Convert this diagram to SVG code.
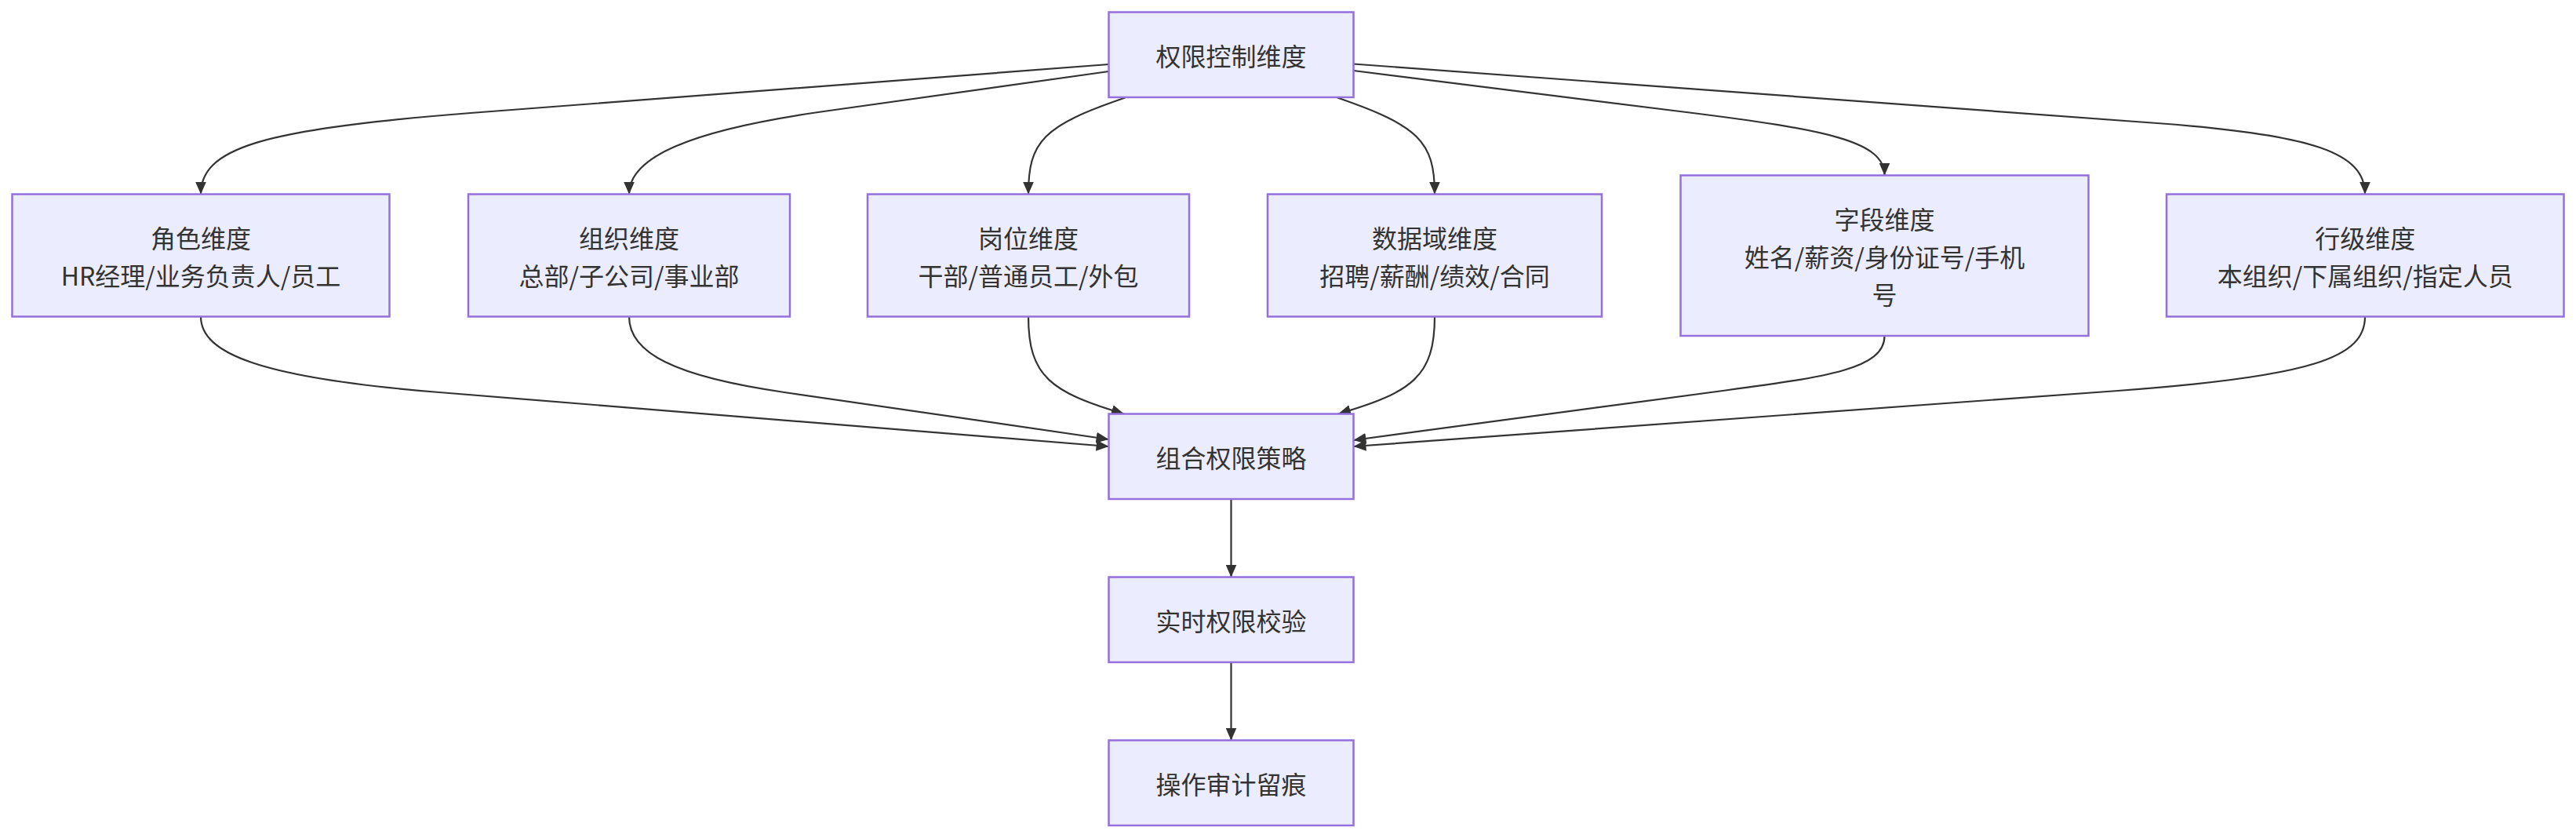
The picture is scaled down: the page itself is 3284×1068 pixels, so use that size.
<svg xmlns="http://www.w3.org/2000/svg" width="3284" height="1068" viewBox="0 0 3284 1068">
<style>
.node rect{fill:#ECECFF;stroke:#9370DB;stroke-width:2.5}
.node text{font-family:"Noto Sans CJK SC","Liberation Sans",sans-serif;font-size:32px;fill:#333;text-anchor:middle;dominant-baseline:central}
.edges path{fill:none;stroke:#333;stroke-width:2.2;marker-end:url(#arrow)}
</style>
<defs>
<marker id="arrow" markerUnits="userSpaceOnUse" viewBox="0 0 16 14" refX="16" refY="7" markerWidth="16" markerHeight="14" orient="auto">
<path d="M0,0 L16,7 L0,14 z" fill="#333"/>
</marker>
</defs>
<rect width="3284" height="1068" fill="#fff"/>
<g class="edges">
<path d="M1413.5,82 L600,144 C330,164.6 256,190 256,247.5"/>
<path d="M1413.5,91 L1050,142 C880,166 802,200 802,247.5"/>
<path d="M1434.5,124.5 C1330,160 1311,180 1311,247.5"/>
<path d="M1705,124.5 C1808,160 1829,180 1829,247.5"/>
<path d="M1725.5,90 L2150,143 C2330,165.5 2402.5,180 2402.5,223.5"/>
<path d="M1725.5,81.5 L2750,157 C2950,171.7 3015,195 3015,247.5"/>
<path d="M256,403.5 C256,450 330,481.4 560,500 L1413.5,569"/>
<path d="M802,403.5 C802,450 860,479.7 1000,500 L1413.5,560"/>
<path d="M1311,403.5 C1311,480 1340,500 1433,527.5"/>
<path d="M1829,403.5 C1829,480 1800,500 1706,527.5"/>
<path d="M2402.5,428 C2402.5,470 2330,480.1 2200,497.5 L1725.5,561"/>
<path d="M3015,403.5 C3015,455 2950,479.8 2700,498 L1725.5,569"/>
<path d="M1569.5,636 L1569.5,735.5"/>
<path d="M1569.5,844 L1569.5,943.5"/>
</g>
<g id="root" class="node"><rect x="1413.5" y="15.5" width="312" height="108.5"/><text x="1569.5" y="69.75">权限控制维度</text></g>
<g id="role" class="node"><rect x="15.5" y="247.5" width="481" height="156"/><text x="256" y="301.5">角色维度</text><text x="256" y="349.5">HR经理/业务负责人/员工</text></g>
<g id="org" class="node"><rect x="597" y="247.5" width="410" height="156"/><text x="802" y="301.5">组织维度</text><text x="802" y="349.5">总部/子公司/事业部</text></g>
<g id="post" class="node"><rect x="1106" y="247.5" width="410" height="156"/><text x="1311" y="301.5">岗位维度</text><text x="1311" y="349.5">干部/普通员工/外包</text></g>
<g id="domain" class="node"><rect x="1616" y="247.5" width="426" height="156"/><text x="1829" y="301.5">数据域维度</text><text x="1829" y="349.5">招聘/薪酬/绩效/合同</text></g>
<g id="field" class="node"><rect x="2142.5" y="223.5" width="520" height="204.5"/><text x="2402.5" y="277.75">字段维度</text><text x="2402.5" y="325.75">姓名/薪资/身份证号/手机</text><text x="2402.5" y="373.75">号</text></g>
<g id="row" class="node"><rect x="2762" y="247.5" width="506.5" height="156"/><text x="3015.25" y="301.5">行级维度</text><text x="3015.25" y="349.5">本组织/下属组织/指定人员</text></g>
<g id="combo" class="node"><rect x="1413.5" y="527.5" width="312" height="108.5"/><text x="1569.5" y="581.75">组合权限策略</text></g>
<g id="check" class="node"><rect x="1413.5" y="735.5" width="312" height="108.5"/><text x="1569.5" y="789.75">实时权限校验</text></g>
<g id="audit" class="node"><rect x="1413.5" y="943.5" width="312" height="108.5"/><text x="1569.5" y="997.75">操作审计留痕</text></g>
</svg>
